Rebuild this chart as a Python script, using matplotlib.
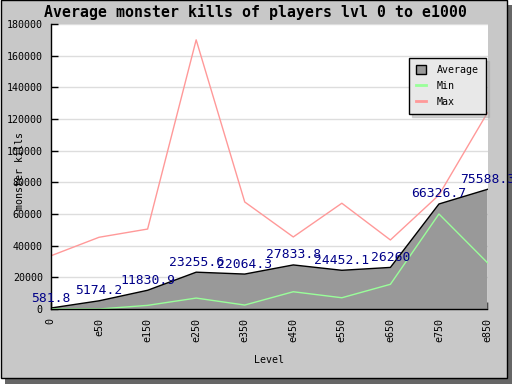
import matplotlib
matplotlib.use("Agg")
import matplotlib.pyplot as plt
from matplotlib.patches import Rectangle

# data
levels = ['0', 'e50', 'e150', 'e250', 'e350', 'e450', 'e550', 'e650', 'e750', 'e850']
avg_kills = [581.8, 5174.2, 11830.9, 23255.6, 22064.3, 27833.8, 24452.1, 26260, 66326.7, 75588.3]
min_kills = [0, 0, 2300, 6900, 2500, 10900, 7100, 15600, 60000, 29200]
max_kills = [33500, 45300, 50500, 170000, 67600, 45500, 66800, 43600, 72000, 124000]
avg_text = ['581.8', '5174.2', '11830.9', '23255.6', '22064.3', '27833.8', '24452.1', '26260', '66326.7', '75588.3']

plt.rcParams['font.family'] = ['DejaVu Sans Mono', 'DejaVu Sans']

W, H = 512, 384
fig = plt.figure(figsize=(W / 100, H / 100), dpi=100, facecolor='white')

# drop shadow + gray frame like jpgraph
fig.patches.append(Rectangle((5 / W, 0), 1 - 5 / W, 1 - 5 / H, transform=fig.transFigure,
                             facecolor='#666666', edgecolor='none', zorder=-3))
fig.patches.append(Rectangle((0.5 / W, 6 / H), 506 / W, 1 - 6 / H, transform=fig.transFigure,
                             facecolor='#c8c8c8', edgecolor='black', linewidth=1, zorder=-2))

ax = fig.add_axes([50.5 / W, (H - 309) / H, 437 / W, 285 / H])
ax.set_facecolor('white')

x = list(range(len(levels)))
ax.fill_between(x, avg_kills, 0, facecolor='#999999', edgecolor='none', label='Average', zorder=2)
ax.plot(x, avg_kills, color='black', linewidth=1, zorder=3)
ax.plot(x, min_kills, color='#99ff99', linewidth=1, label='Min', zorder=4)
ax.plot(x, max_kills, color='#ff9999', linewidth=1, label='Max', zorder=4)

for xi, yi, t in zip(x, avg_kills, avg_text):
    ax.annotate(t, (xi, yi), xytext=(0, 10), textcoords='offset pixels',
                ha='center', va='center', color='#000088', fontsize=9.4,
                annotation_clip=False, zorder=6)

ax.set_xlim(0, 9)
ax.set_ylim(0, 180000)
ax.set_yticks(range(0, 180001, 20000))
ax.set_xticks(x)
ax.set_xticklabels(levels, rotation=90, va='top')
ax.tick_params(axis='both', direction='in', length=5, width=1, labelsize=7.2, color='black')
ax.tick_params(axis='x', pad=6.5)
ax.tick_params(axis='y', pad=5.5)
ax.grid(axis='y', color='#dddddd', linewidth=1)
ax.set_axisbelow(True)

for side in ['top', 'right']:
    ax.spines[side].set_visible(False)
for side in ['left', 'bottom']:
    ax.spines[side].set_linewidth(1)
    ax.spines[side].set_zorder(5)

ax.set_xlabel('Level', fontsize=7.2)
ax.xaxis.label.set_va('center')
ax.xaxis.set_label_coords(0.5, -0.179)
ax.set_ylabel('monster kills', fontsize=7.2)
ax.yaxis.label.set_va('center')
ax.yaxis.set_label_coords(-0.07, 0.484)

fig.text(0.5, 1 - 12 / H, 'Average monster kills of players lvl 0 to e1000',
         ha='center', va='center', fontsize=10.7, fontweight='bold')

leg = ax.legend(loc='upper right', bbox_to_anchor=(0.9966, 0.881), borderaxespad=0, fontsize=7.2,
                frameon=True, fancybox=False, shadow={'color': '#aaaaaa'}, handlelength=1.0,
                handleheight=1.0, labelspacing=0.6, borderpad=0.7, handletextpad=1.1)
leg.get_frame().set_facecolor('#e8e8e8')
leg.get_frame().set_edgecolor('black')
leg.get_frame().set_alpha(1)
leg.get_frame().set_linewidth(1)
leg.legend_handles[0].set_edgecolor('black')
leg.legend_handles[0].set_linewidth(1)
leg.legend_handles[1].set_linewidth(2)
leg.legend_handles[2].set_linewidth(2)
leg.set_zorder(7)

fig.savefig('out.png', dpi=100, facecolor=fig.get_facecolor())
